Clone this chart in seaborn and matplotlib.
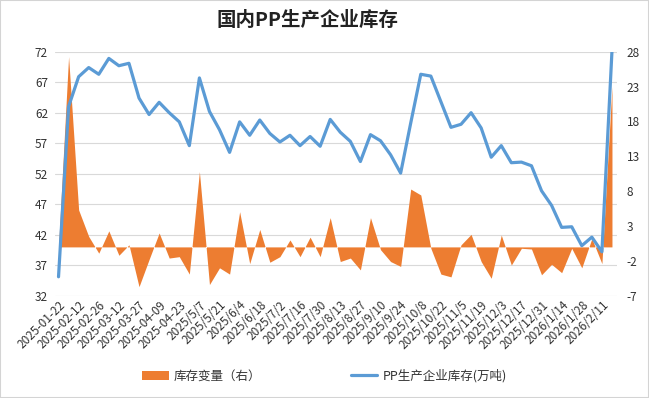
import matplotlib
matplotlib.use('Agg')
import matplotlib.pyplot as plt
import seaborn as sns
import pandas as pd
from matplotlib.patches import Patch, Rectangle
from matplotlib.lines import Line2D

# ---- data ----
dates = ["2025-01-22", "2025-02-05", "2025-02-12", "2025-02-19", "2025-02-26", "2025-03-05",
         "2025-03-12", "2025-03-19", "2025-03-27", "2025-04-02", "2025-04-09", "2025-04-16",
         "2025-04-23", "2025-04-30", "2025/5/7", "2025/5/14", "2025/5/21", "2025/5/28",
         "2025/6/4", "2025/6/11", "2025/6/18", "2025/6/25", "2025/7/2", "2025/7/9",
         "2025/7/16", "2025/7/23", "2025/7/30", "2025/8/6", "2025/8/13", "2025/8/20",
         "2025/8/27", "2025/9/3", "2025/9/10", "2025/9/17", "2025/9/24", "2025/9/30",
         "2025/10/8", "2025/10/15", "2025/10/22", "2025/10/29", "2025/11/5", "2025/11/12",
         "2025/11/19", "2025/11/26", "2025/12/3", "2025/12/10", "2025/12/17", "2025/12/24",
         "2025/12/31", "2026/1/7", "2026/1/14", "2026/1/21", "2026/1/28", "2026/2/4",
         "2026/2/11", "2026/2/25"]

inventory = [35.1, 63.0, 67.9, 69.4, 68.3, 70.9, 69.7, 70.1, 64.4, 61.7,
             63.7, 62.0, 60.5, 56.6, 67.7, 62.2, 59.2, 55.5, 60.5, 58.3,
             60.8, 58.6, 57.2, 58.3, 56.6, 58.1, 56.5, 60.9, 58.8, 57.3,
             54.0, 58.4, 57.4, 55.1, 52.1, 60.3, 68.3, 68.0, 63.8, 59.6,
             60.1, 62.0, 59.5, 54.7, 56.6, 53.8, 53.9, 53.3, 49.2, 46.8,
             43.2, 43.3, 40.2, 41.6, 39.2, 72.1]

change = [0.0, 27.3, 5.3, 1.5, -0.9, 2.3, -1.2, 0.3, -5.7, -1.8,
          2.0, -1.6, -1.4, -3.9, 10.8, -5.4, -3.0, -3.9, 5.05, -2.4,
          2.5, -2.2, -1.4, 1.0, -1.4, 1.4, -1.4, 4.2, -2.1, -1.6,
          -3.3, 4.2, -0.4, -2.1, -2.8, 8.3, 7.45, -0.2, -3.9, -4.3,
          0.3, 1.8, -2.1, -4.5, 1.7, -2.6, -0.2, -0.3, -4.0, -2.5,
          -3.7, -0.2, -3.0, 1.2, -2.4, 23.0]

left_ticks = [32, 37, 42, 47, 52, 57, 62, 67, 72]
right_ticks = [-7, -2, 3, 8, 13, 18, 23, 28]

title = "国内PP生产企业库存"
label_change = "库存变量（右）"
label_inv = "PP生产企业库存(万吨)"

# ---- style ----
sns.set_theme(style='white')
plt.rcParams['font.family'] = ['Noto Sans CJK SC', 'DejaVu Sans']
plt.rcParams['axes.unicode_minus'] = False

ORANGE = '#ed7d31'
BLUE = '#5b9bd5'
GRID = '#d9d9d9'
TXT = '#333333'

df = pd.DataFrame({'idx': list(range(len(dates))), 'date': dates,
                   'inventory': inventory, 'change': change})

fig = plt.figure(figsize=(6.49, 3.98), dpi=100)
ax = fig.add_axes([55 / 649, 1 - 295.7 / 398, (617 - 55) / 649, (295.7 - 51.7) / 398])
ax2 = ax.twinx()
ax3 = ax.twinx()

# left axis: grid + labels
ax.set_ylim(left_ticks[0], left_ticks[-1])
ax.set_yticks(left_ticks)
ax.yaxis.grid(True, color=GRID, linewidth=0.8)
ax.xaxis.grid(False)
ax.set_xlim(-0.35, len(dates) - 0.5)
ax.set_xticks(df['idx'][::2])
ax.set_xticklabels(df['date'][::2], rotation=45, ha='right', rotation_mode='anchor')
ax.tick_params(axis='y', length=0, labelsize=8.5, colors=TXT, pad=5)
ax.tick_params(axis='x', length=0, labelsize=8.5, colors=TXT, pad=2)

# right axis: area of change
ax2.fill_between(df['idx'], 0, df['change'], color=ORANGE, linewidth=0)
ax2.set_ylim(right_ticks[0], right_ticks[-1])
ax2.set_yticks(right_ticks)
ax2.grid(False)
ax2.tick_params(axis='y', length=0, labelsize=8.5, colors=TXT, pad=7)

# inventory line (left scale) on top
sns.lineplot(data=df, x='idx', y='inventory', ax=ax3, color=BLUE, linewidth=2.3)
ax3.set_ylim(left_ticks[0], left_ticks[-1])
ax3.set_yticks([])
ax3.grid(False)
ax3.set_ylabel('')
ax3.set_xlabel('')

for a in (ax, ax2, ax3):
    for s in a.spines.values():
        s.set_visible(False)
ax.set_xlabel('')
ax.set_ylabel('')
ax2.set_ylabel('')

fig.text(307 / 649, 1 - 20 / 398, title, ha='center', va='center',
         fontsize=14, fontweight='bold', color='#222222')

handles = [Patch(facecolor=ORANGE, edgecolor='none', label=label_change),
           Line2D([], [], color=BLUE, linewidth=2.3, label=label_inv)]
fig.legend(handles=handles, loc='center', bbox_to_anchor=(0.5, 1 - 376 / 398), ncol=2,
           frameon=False, fontsize=9, columnspacing=7.2, handlelength=2.1,
           handletextpad=0.4, labelcolor=TXT)

fig.add_artist(Rectangle((0, 0), 1, 1, transform=fig.transFigure, fill=False,
                         edgecolor='#d4d4d4', linewidth=1.5))

fig.savefig('out.png', dpi=100)
